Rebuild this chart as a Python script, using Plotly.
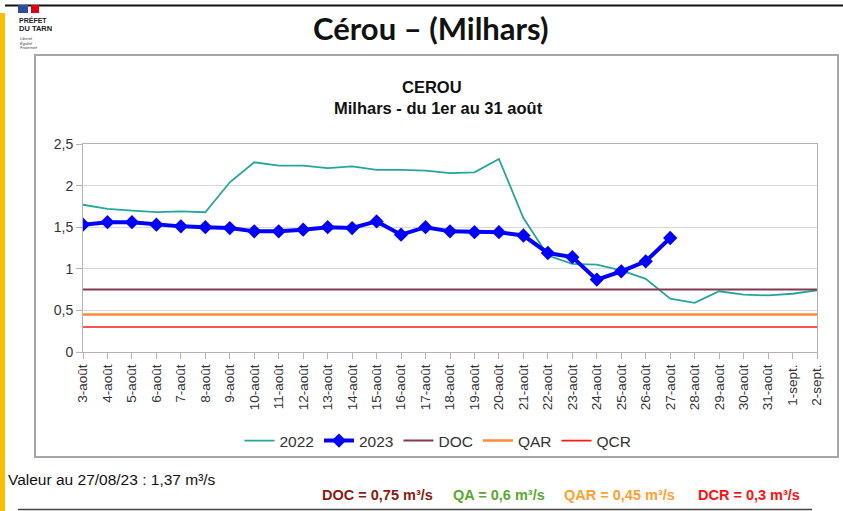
import plotly.graph_objects as go

W, H = 843, 511

days = ["3-août", "4-août", "5-août", "6-août", "7-août", "8-août", "9-août", "10-août",
        "11-août", "12-août", "13-août", "14-août", "15-août", "16-août", "17-août", "18-août",
        "19-août", "20-août", "21-août", "22-août", "23-août", "24-août", "25-août", "26-août",
        "27-août", "28-août", "29-août", "30-août", "31-août", "1-sept.", "2-sept."]

q2022 = [1.77, 1.72, 1.70, 1.68, 1.69, 1.68, 2.04, 2.28, 2.24, 2.24, 2.21, 2.23, 2.19, 2.19,
         2.18, 2.15, 2.16, 2.32, 1.61, 1.16, 1.06, 1.05, 0.98, 0.88, 0.64, 0.59, 0.73, 0.69,
         0.68, 0.70, 0.74]

q2023 = [1.53, 1.56, 1.56, 1.53, 1.51, 1.50, 1.49, 1.45, 1.45, 1.47, 1.50, 1.49, 1.57, 1.41,
         1.50, 1.45, 1.44, 1.44, 1.40, 1.19, 1.14, 0.87, 0.97, 1.09, 1.37]

DOC = 0.75
QAR = 0.45
QCR = 0.30

yticks = [0, 0.5, 1, 1.5, 2, 2.5]
yticklabels = ["0", "0,5", "1", "1,5", "2", "2,5"]

# plot area in pixels
PX0, PX1 = 83, 817
PY0, PY1 = 144, 352  # top, bottom


def px(x):
    return x / W


def py(y):
    return 1 - y / H


fig = go.Figure()

fig.add_trace(go.Scatter(x=days, y=q2022, mode="lines", name="2022",
                         line=dict(color="#26a69a", width=1.8)))
fig.add_trace(go.Scatter(x=days[:len(q2023)], y=q2023, mode="lines+markers", name="2023",
                         line=dict(color="#0000ff", width=4),
                         marker=dict(symbol="diamond", size=11, color="#0000ff")))
fig.add_trace(go.Scatter(x=days, y=[DOC] * len(days), mode="lines", name="DOC",
                         line=dict(color="#843a4e", width=2)))
fig.add_trace(go.Scatter(x=days, y=[QAR] * len(days), mode="lines", name="QAR",
                         line=dict(color="#ff8a3a", width=2.5)))
fig.add_trace(go.Scatter(x=days, y=[QCR] * len(days), mode="lines", name="QCR",
                         line=dict(color="#ff1a1a", width=1.6)))

axis_font = dict(family="Liberation Sans, Arial, sans-serif", size=14, color="#333333")

fig.update_layout(
    width=W, height=H,
    margin=dict(l=0, r=0, t=0, b=0),
    paper_bgcolor="white", plot_bgcolor="white",
    showlegend=True,
    hovermode=False,
    xaxis=dict(
        domain=[px(PX0), px(PX1)], type="category", range=[0, len(days) - 1],
        tickangle=-90, tickfont=dict(family="Liberation Sans, Arial, sans-serif", size=13.5,
                                     color="#333333"),
        ticks="outside", ticklen=6, tickcolor="#b3b3b3",
        showgrid=False, showline=True, linecolor="#b3b3b3", linewidth=1, mirror=True,
        automargin=False, zeroline=False,
    ),
    yaxis=dict(
        domain=[py(PY1), py(PY0)], range=[0, 2.5],
        tickvals=yticks, ticktext=yticklabels, tickfont=axis_font,
        ticks="outside", ticklen=6, tickcolor="#b3b3b3",
        showgrid=True, gridcolor="#d9d9d9", gridwidth=1,
        showline=True, linecolor="#b3b3b3", linewidth=1, mirror=True,
        automargin=False, zeroline=False,
    ),
    legend=dict(orientation="h", x=px(438), xanchor="center", y=py(441), yanchor="middle",
                font=dict(family="Liberation Sans, Arial, sans-serif", size=15.5, color="#333333"),
                bgcolor="rgba(0,0,0,0)", itemwidth=30, tracegroupgap=0),
)

shapes = []
# yellow side bar
shapes.append(dict(type="rect", xref="paper", yref="paper", x0=0, x1=px(5), y0=0, y1=py(13),
                   fillcolor="#fbbc04", line=dict(width=0), layer="above"))
# top black line
shapes.append(dict(type="line", xref="paper", yref="paper", x0=px(5), x1=1, y0=py(5.5), y1=py(5.5),
                   line=dict(color="#111111", width=2)))
# chart frame
shapes.append(dict(type="rect", xref="paper", yref="paper", x0=px(35), x1=px(838), y0=py(457),
                   y1=py(55), line=dict(color="#a6a6a6", width=2), fillcolor="rgba(0,0,0,0)",
                   layer="below"))
# bottom line
shapes.append(dict(type="line", xref="paper", yref="paper", x0=px(18), x1=px(812), y0=py(509.5),
                   y1=py(509.5), line=dict(color="#444444", width=1.5)))
# logo flag
shapes.append(dict(type="rect", xref="paper", yref="paper", x0=px(18), x1=px(28), y0=py(13),
                   y1=py(5), fillcolor="#2b4d9c", line=dict(width=0)))
shapes.append(dict(type="rect", xref="paper", yref="paper", x0=px(31), x1=px(39), y0=py(13),
                   y1=py(5), fillcolor="#e1000f", line=dict(width=0)))
fig.update_layout(shapes=shapes)

ann = []


def text(x, y, s, size, color="#000000", bold=False, family="Liberation Sans, Arial, sans-serif",
         xanchor="left", italic=False):
    if bold:
        s = "<b>" + s + "</b>"
    if italic:
        s = "<i>" + s + "</i>"
    ann.append(dict(x=px(x), y=py(y), xref="paper", yref="paper", text=s, showarrow=False,
                    xanchor=xanchor, yanchor="middle",
                    font=dict(family=family, size=size, color=color)))


text(431, 28, "Cérou – (Milhars)", 31, "#111111", bold=True,
     family="Lato, Open Sans, sans-serif", xanchor="center")
text(432, 87, "CEROU", 16.5, "#111111", bold=True, xanchor="center")
text(438, 108, "Milhars - du 1er au 31 août", 16.5, "#111111", bold=True, xanchor="center")

text(17, 20, "PRÉFET", 7, "#222222", bold=True)
text(17, 29, "DU TARN", 7.5, "#222222", bold=True)
text(18, 38.5, "Liberté", 4, "#444444", italic=True)
text(18, 43, "Égalité", 4, "#444444", italic=True)
text(18, 47.5, "Fraternité", 4, "#444444", italic=True)

text(6, 479, "Valeur au 27/08/23 : 1,37 m³/s", 15.5, "#111111")
text(320, 495, "DOC = 0,75 m³/s", 14.5, "#8b1a10", bold=True)
text(451, 495, "QA = 0,6 m³/s", 14.5, "#5aa832", bold=True)
text(562, 495, "QAR = 0,45 m³/s", 14.5, "#ffa030", bold=True)
text(696, 495, "DCR = 0,3 m³/s", 14.5, "#ff1010", bold=True)

fig.update_layout(annotations=ann)

fig.write_html("out.html", config={"displayModeBar": False},
               post_script="document.body.style.margin='0';document.body.style.overflow='hidden';")
